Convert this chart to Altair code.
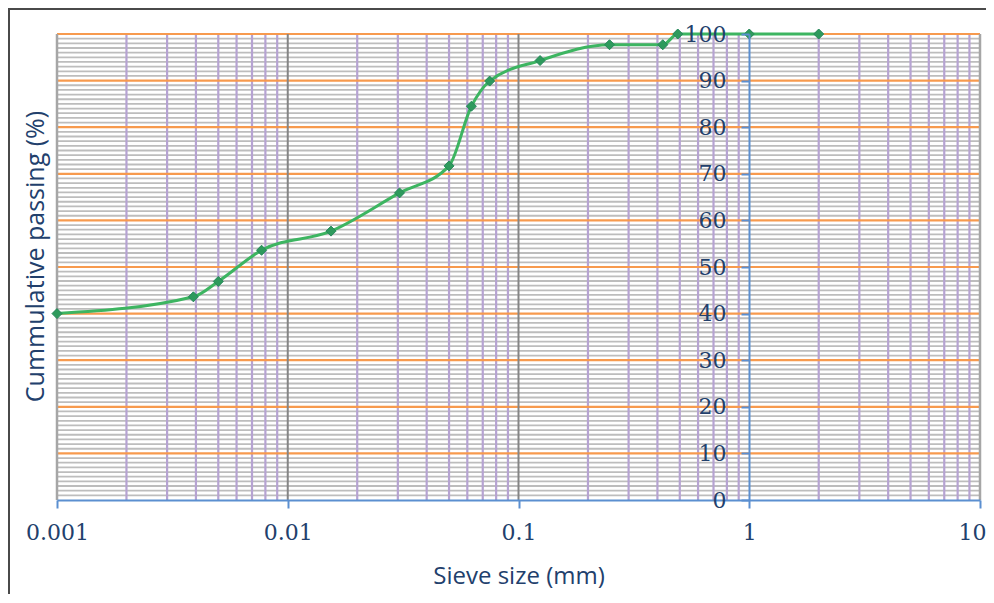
import altair as alt
import pandas as pd

# ---- data ----
sieve_mm = [0.001, 0.0039, 0.005, 0.0077, 0.0154, 0.0305, 0.05, 0.0625, 0.075,
            0.124, 0.248, 0.422, 0.49, 1.0, 2.0]
passing = [40.0, 43.6, 46.9, 53.6, 57.7, 65.9, 71.7, 84.5, 89.9,
           94.3, 97.7, 97.7, 100.0, 100.0, 100.0]

x_ticks = [0.001, 0.01, 0.1, 1, 10]
y_ticks = [0, 10, 20, 30, 40, 50, 60, 70, 80, 90, 100]

# gridline positions
minor_v = [k * 10.0 ** d for d in (-3, -2, -1, 0) for k in range(2, 10)]
major_v = [0.01, 0.1]
edge_v = [0.001, 10]
minor_h = [v for v in range(1, 100) if v % 10]
major_h = [10, 20, 30, 40, 50, 60, 70, 80, 90, 100]

W, H = 923, 466
TEXT = "#22406c"
BLUE = "#5b8fd0"

xscale = alt.Scale(type="log", domain=[0.001, 10], nice=False)
yscale = alt.Scale(domain=[0, 100], nice=False, zero=False)

df = pd.DataFrame({"size": sieve_mm, "pass": passing})

g_minor_h = alt.Chart(pd.DataFrame({"y": minor_h})).mark_rule(
    color="#bdbdbd", strokeWidth=1.8).encode(
    y=alt.Y("y:Q", scale=yscale, axis=None))
g_minor_v = alt.Chart(pd.DataFrame({"x": minor_v})).mark_rule(
    color="#b6a3d2", strokeWidth=2.2).encode(
    x=alt.X("x:Q", scale=xscale, axis=None))
g_major_h = alt.Chart(pd.DataFrame({"y": major_h})).mark_rule(
    color="#f79a4e", strokeWidth=2.2).encode(
    y=alt.Y("y:Q", scale=yscale, axis=None))
g_major_v = alt.Chart(pd.DataFrame({"x": major_v})).mark_rule(
    color="#858585", strokeWidth=2).encode(
    x=alt.X("x:Q", scale=xscale, axis=None))
g_edge_v = alt.Chart(pd.DataFrame({"x": edge_v})).mark_rule(
    color="#a6a6a6", strokeWidth=2.5).encode(
    x=alt.X("x:Q", scale=xscale, axis=None))

x_axis = alt.Axis(values=x_ticks, format="~g", title="Sieve size (mm)",
                  grid=False, domainColor=BLUE, domainWidth=2,
                  tickColor=BLUE, tickWidth=2, tickSize=8,
                  labelFont="DejaVu Serif", labelFontSize=22,
                  labelColor=TEXT, labelPadding=14, labelFlush=False,
                  labelAlign=alt.expr("datum.value == 10 ? 'right' : 'center'"),
                  labelOffset=alt.expr("datum.value == 10 ? 6 : 0"),
                  titleFont="Open Sans", titleFontSize=24,
                  titleFontWeight="normal", titleColor=TEXT,
                  titleY=76, titleBaseline="middle", zindex=1)
y_axis = alt.Axis(values=y_ticks, title="Cummulative passing (%)",
                  grid=False, offset=-692, domainColor=BLUE,
                  domainWidth=2, tickColor=BLUE, tickWidth=2,
                  tickSize=8, labelFont="DejaVu Serif",
                  labelFontSize=22, labelColor=TEXT, labelPadding=15,
                  labelFlush=False,
                  titleFont="Open Sans", titleFontSize=25,
                  titleFontWeight="normal", titleColor=TEXT,
                  titleX=-714, titleY=222, titleAngle=270,
                  titleAlign="center", titleBaseline="middle",
                  zindex=1)

line = alt.Chart(df).mark_line(interpolate="monotone", color="#3db561",
                               strokeWidth=3).encode(
    x=alt.X("size:Q", scale=xscale, axis=x_axis),
    y=alt.Y("pass:Q", scale=yscale, axis=y_axis))
pts = alt.Chart(df).mark_point(shape="diamond", filled=True, size=100,
                               color="#2e9a5c", stroke="#25875a",
                               strokeWidth=1, opacity=1).encode(
    x=alt.X("size:Q", scale=xscale, axis=None),
    y=alt.Y("pass:Q", scale=yscale, axis=None))

frame_top = alt.Chart(pd.DataFrame({"a": [0]})).mark_rule(
    color="#4a4a4a", strokeWidth=2).encode(
    x=alt.value(-49), x2=alt.value(W + 20), y=alt.value(-25))
frame_left = alt.Chart(pd.DataFrame({"a": [0]})).mark_rule(
    color="#4a4a4a", strokeWidth=2).encode(
    x=alt.value(-48), y=alt.value(-26), y2=alt.value(H + 120))

chart = alt.layer(
    g_minor_h, g_minor_v, g_major_h, g_major_v, g_edge_v,
    line, pts, frame_top, frame_left
).resolve_axis(x="independent", y="independent").properties(
    width=W, height=H,
    autosize=alt.AutoSizeParams(type="none"),
    padding={"left": 49, "top": 26, "right": 6, "bottom": 94},
).configure_view(stroke=None).configure(background="white")

chart.save("out.html", embed_options={"renderer": "svg", "actions": False})
